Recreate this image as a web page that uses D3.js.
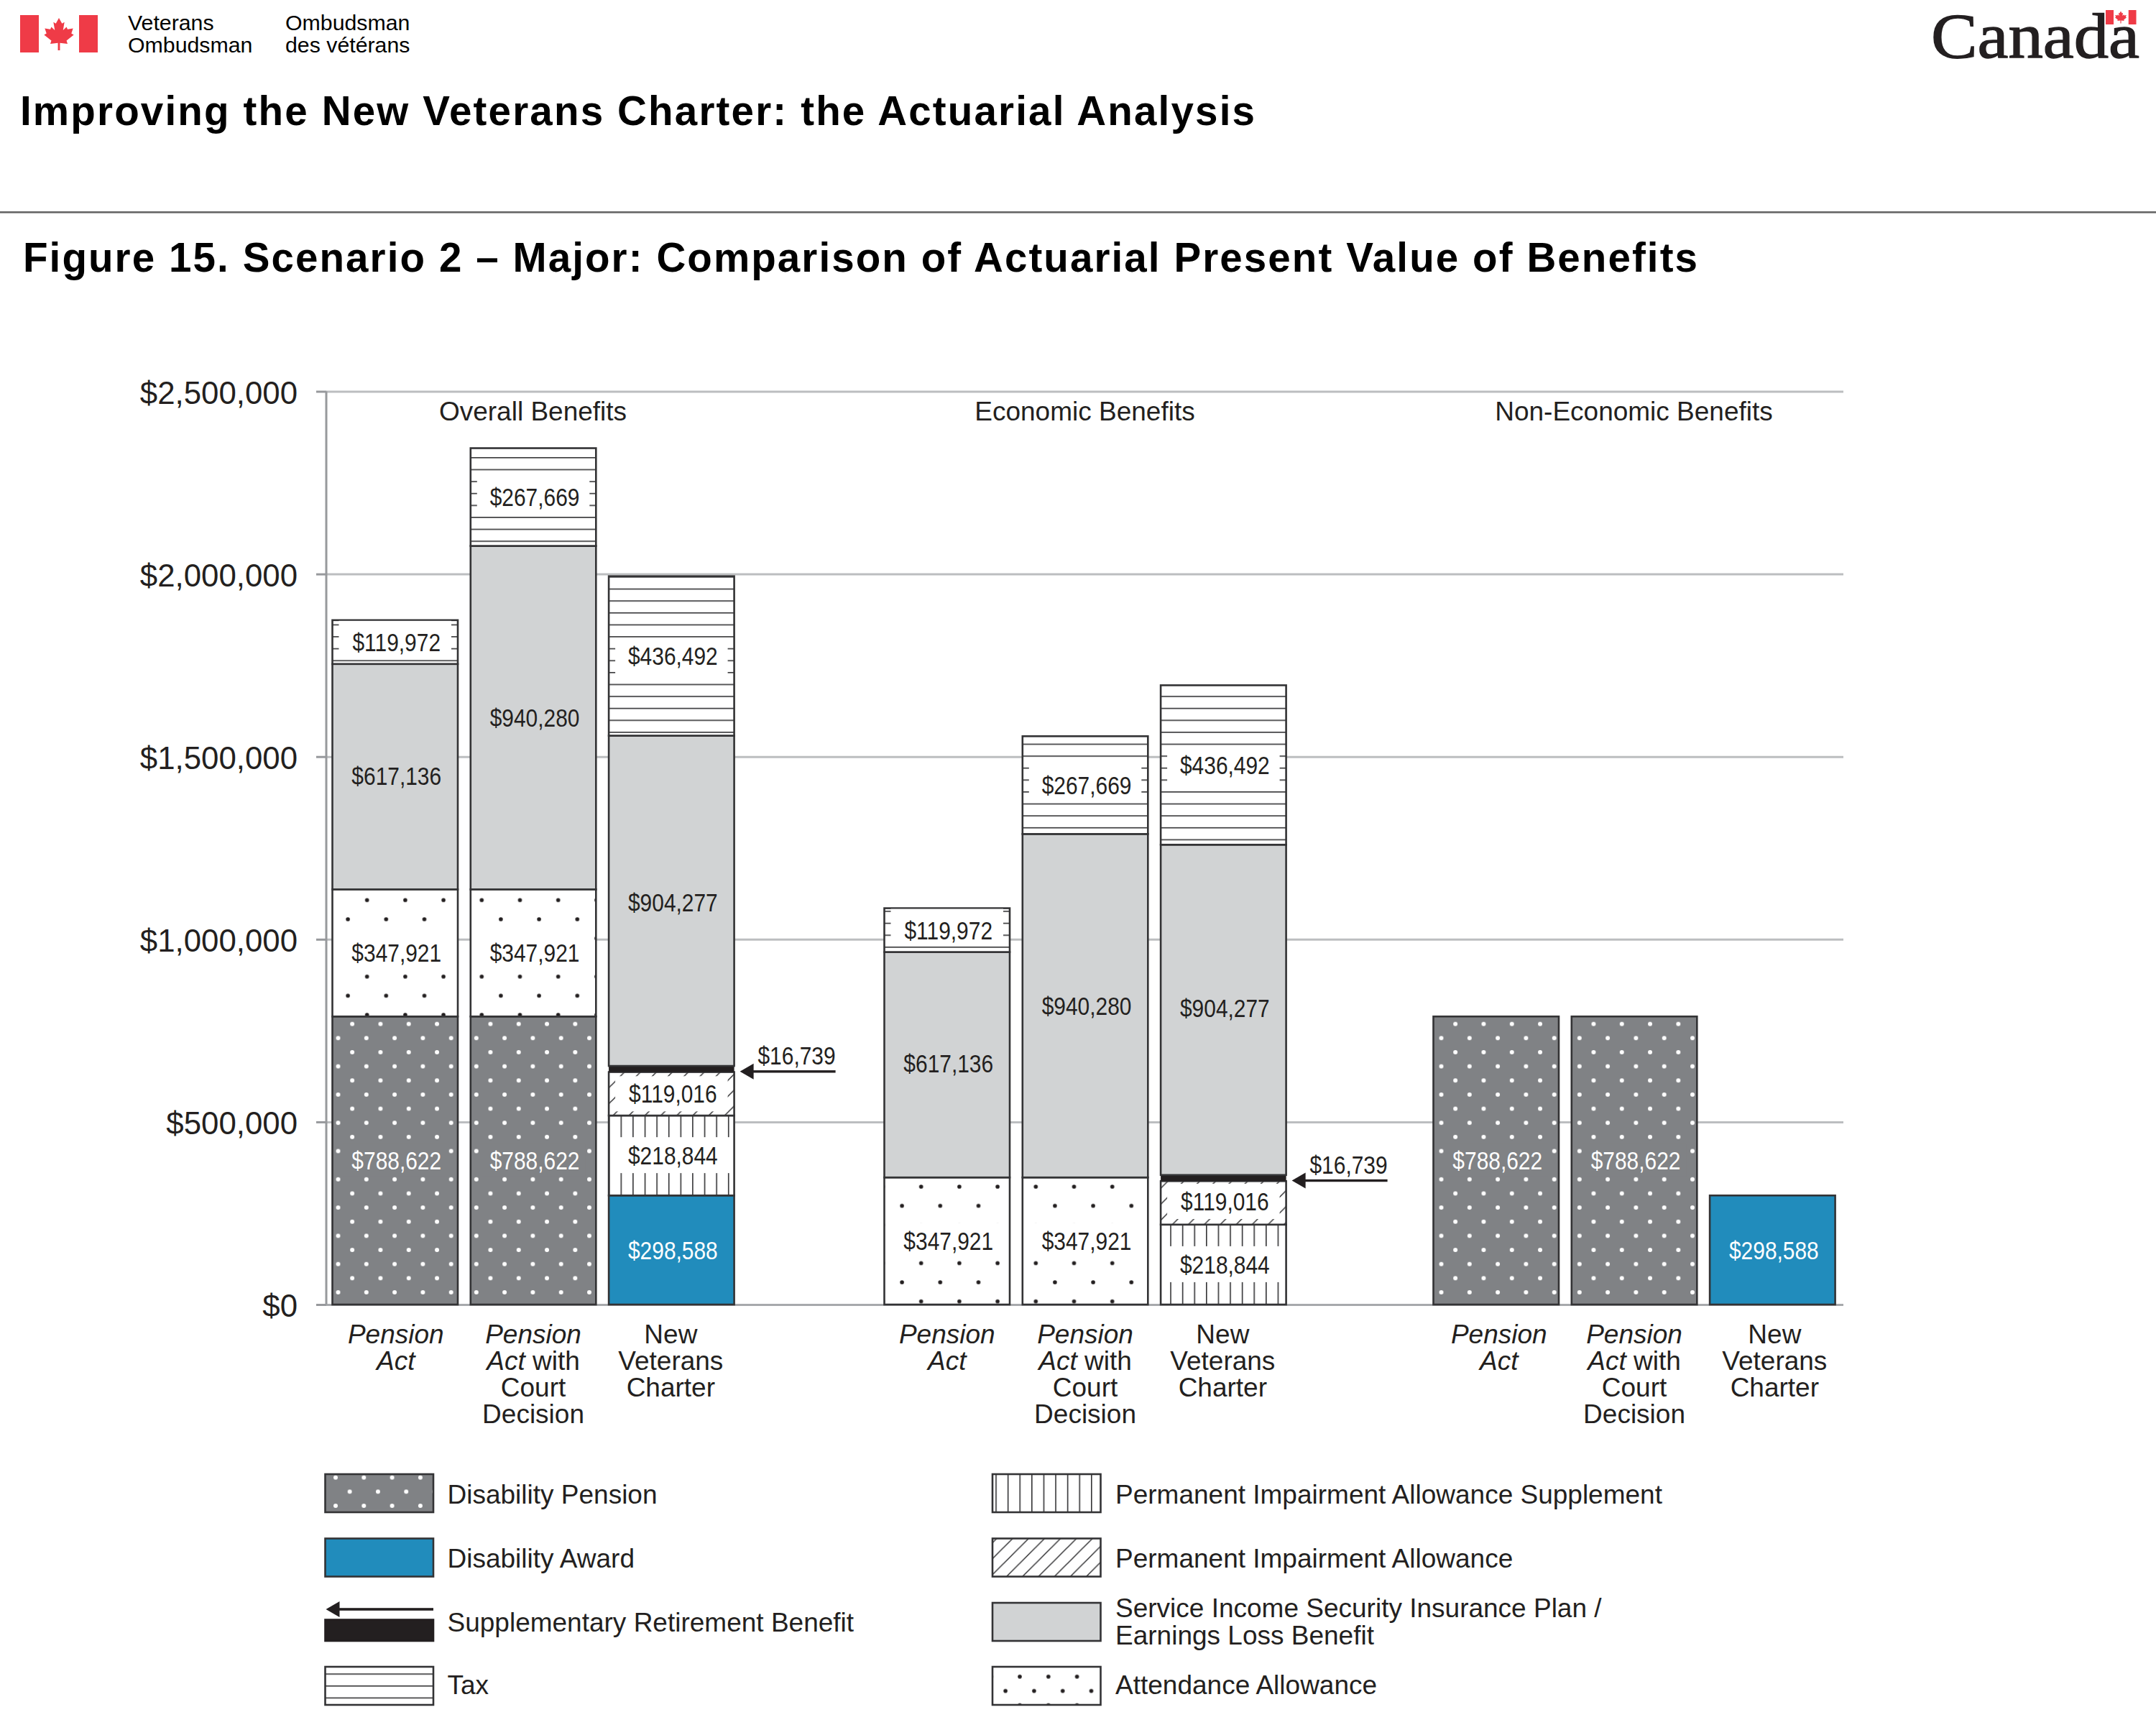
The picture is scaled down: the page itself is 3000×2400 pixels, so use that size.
<!DOCTYPE html>
<html><head><meta charset="utf-8">
<script src="https://cdn.jsdelivr.net/npm/d3@7"></script>
<style>html,body{margin:0;padding:0;background:#fff}svg{display:block}text{font-family:"Liberation Sans",Arial,sans-serif;fill:#231f20}</style>
</head><body><div id="c"></div>
<script>
const groups = ['Overall Benefits', 'Economic Benefits', 'Non-Economic Benefits'];
const members = ['Pension Act', 'Pension Act with Court Decision', 'New Veterans Charter'];
const yTicks = [0, 500000, 1000000, 1500000, 2000000, 2500000];
// one value per bar: three bars in each of the three groups
const disabilityPension = [788622, 788622, 0, 0, 0, 0, 788622, 788622, 0];
const disabilityAward   = [0, 0, 298588, 0, 0, 0, 0, 0, 298588];
const attendance        = [347921, 347921, 0, 347921, 347921, 0, 0, 0, 0];
const piaSupplement     = [0, 0, 218844, 0, 0, 218844, 0, 0, 0];
const pia               = [0, 0, 119016, 0, 0, 119016, 0, 0, 0];
const retirement        = [0, 0, 16739, 0, 0, 16739, 0, 0, 0];
const sisip             = [617136, 940280, 904277, 617136, 940280, 904277, 0, 0, 0];
const tax               = [119972, 267669, 436492, 119972, 267669, 436492, 0, 0, 0];
const seriesKeys = ['dp', 'da', 'aa', 'pias', 'pia', 'srb', 'sisip', 'tax'];
const seriesValues = [disabilityPension, disabilityAward, attendance, piaSupplement, pia, retirement, sisip, tax];
const legendLeft = [['Disability Pension'], ['Disability Award'], ['Supplementary Retirement Benefit'], ['Tax']];
const legendRight = [['Permanent Impairment Allowance Supplement'], ['Permanent Impairment Allowance'],
  ['Service Income Security Insurance Plan /', 'Earnings Loss Benefit'], ['Attendance Allowance']];

const INK = '#231f20', EDGE = '#333335', GREY = '#808285', LIGHT = '#d1d3d4', BLUE = '#218cbc', RED = '#ef3b47';
const svg = d3.select('#c').append('svg').attr('width', 3000).attr('height', 2400).attr('viewBox', '0 0 3000 2400');
const defs = svg.append('defs');

const y = d3.scaleLinear().domain([0, 2500000]).range([1815, 544.5]);
const groupX = d3.scaleOrdinal().domain(groups).range([462.5, 1230.5, 1994.5]);
const memberX = d3.scaleBand().domain(members).range([0, 559.1]).paddingInner(1 - 174.5 / 192.3);
const barW = memberX.bandwidth();
const fmt = d3.format('$,');

function pattern(id, kind, ox, oy, t) {
  const p = defs.append('pattern').attr('id', id).attr('patternUnits', 'userSpaceOnUse')
    .attr('width', t).attr('height', t).attr('patternTransform', `translate(${ox},${oy})`);
  if (kind === 'dp' || kind === 'aa') {
    p.append('rect').attr('width', t).attr('height', t).attr('fill', kind === 'dp' ? GREY : '#fff');
    [[0, 0], [t, 0], [0, t], [t, t], [t / 2, t / 2]].forEach(c => p.append('circle').attr('cx', c[0]).attr('cy', c[1])
      .attr('r', kind === 'dp' ? 3 : 2.8).attr('fill', kind === 'dp' ? '#fff' : INK));
  } else {
    p.append('rect').attr('width', t).attr('height', t).attr('fill', '#fff');
    if (kind === 'tax') p.append('rect').attr('y', 0).attr('width', t).attr('height', 1.6).attr('fill', EDGE);
    if (kind === 'pias') p.append('rect').attr('x', 0).attr('width', 1.6).attr('height', t).attr('fill', EDGE);
    if (kind === 'pia') p.append('path').attr('d', `M-2,${t + 2}L${t + 2},-2M${-t / 2},${t / 2}L${t / 2},${-t / 2}M${t / 2},${t * 1.5}L${t * 1.5},${t / 2}`)
      .attr('stroke', EDGE).attr('stroke-width', 1.5).attr('fill', 'none');
  }
  return `url(#${id})`;
}

// header
svg.append('rect').attr('x', 28).attr('y', 21).attr('width', 26).attr('height', 52).attr('fill', RED);
svg.append('rect').attr('x', 110).attr('y', 21).attr('width', 26).attr('height', 52).attr('fill', RED);
const leaf = 'M0,-50L9,-33L16,-37L12,-12L22,-22L25,-15L41,-18L36,-2L43,2L22,20L25,30L3,27L3,50L-3,50L-3,27L-25,30L-22,20L-43,2L-36,-2L-41,-18L-25,-15L-22,-22L-12,-12L-16,-37L-9,-33Z';
svg.append('path').attr('d', leaf).attr('fill', RED).attr('transform', 'translate(82,47.5) scale(.48,.45)');
[['Veterans', 178, 42], ['Ombudsman', 178, 73], ['Ombudsman', 397, 42], ['des vétérans', 397, 73]].forEach(d =>
  svg.append('text').attr('x', d[1]).attr('y', d[2]).attr('font-size', 30.3).style('fill', '#000').text(d[0]));
svg.append('text').attr('x', 2687).attr('y', 80).attr('textLength', 290).attr('lengthAdjust', 'spacingAndGlyphs')
  .style('font-family', '"Liberation Serif",serif').attr('font-size', 89.5).attr('stroke', INK).attr('stroke-width', 1.3).text('Canada');
svg.append('rect').attr('x', 2930).attr('y', 14).attr('width', 11).attr('height', 20).attr('fill', RED);
svg.append('rect').attr('x', 2961.5).attr('y', 14).attr('width', 11).attr('height', 20).attr('fill', RED);
svg.append('rect').attr('x', 2941).attr('y', 14).attr('width', 20.5).attr('height', 20).attr('fill', '#fff');
svg.append('path').attr('d', leaf).attr('fill', RED).attr('transform', 'translate(2951,24) scale(.19,.17)');
const titleSqueeze = 0.975;
svg.append('text').attr('transform', `translate(28,174) scale(${titleSqueeze},1)`).attr('font-size', 58).attr('font-weight', 700).style('fill', '#000')
  .attr('textLength', 1718 / titleSqueeze).attr('lengthAdjust', 'spacing').text('Improving the New Veterans Charter: the Actuarial Analysis');
svg.append('rect').attr('x', 0).attr('y', 294).attr('width', 3000).attr('height', 2.6).attr('fill', '#666');
svg.append('text').attr('transform', `translate(32,378) scale(${titleSqueeze},1)`).attr('font-size', 58).attr('font-weight', 700).style('fill', '#000')
  .attr('textLength', 2330 / titleSqueeze).attr('lengthAdjust', 'spacing').text('Figure 15. Scenario 2 – Major: Comparison of Actuarial Present Value of Benefits');

// grid and axis
const axisX = 454;
const grid = svg.append('g').attr('transform', `translate(${axisX},0)`)
  .call(d3.axisRight(y).tickValues(yTicks).tickSize(2565 - axisX).tickFormat(''));
grid.select('.domain').remove();
grid.selectAll('line').attr('stroke', d => d === 0 ? '#a7a9ac' : '#bcbec0').attr('stroke-width', 3);
const axis = svg.append('g').attr('transform', `translate(${axisX},0)`)
  .call(d3.axisLeft(y).tickValues(yTicks).tickSize(14).tickPadding(26).tickFormat(fmt));
axis.select('.domain').attr('stroke', '#97999c').attr('stroke-width', 3).attr('d', `M0,${y(2500000)}V${y(0)}`);
axis.selectAll('line').attr('stroke', '#97999c').attr('stroke-width', 3);
axis.selectAll('text').attr('font-size', 43.8).attr('dy', 16.5).style('font-family', '"Liberation Sans",Arial,sans-serif').style('fill', INK);

groups.forEach((g, i) => svg.append('text').attr('x', [741.5, 1509.5, 2273.5][i]).attr('y', 585).attr('text-anchor', 'middle').attr('font-size', 37).text(g));

// bars
const bars = d3.range(9).map(i => Object.assign({ i, group: groups[Math.floor(i / 3)], member: members[i % 3] },
  Object.fromEntries(seriesKeys.map((k, s) => [k, seriesValues[s][i]]))));
const stacked = d3.stack().keys(seriesKeys)(bars);
const left = b => groupX(b.group) + memberX(b.member);
const gi = b => Math.floor(b.i / 3);
const fillFor = (key, b) => {
  const id = `p-${key}-${b.i}`;
  if (key === 'dp') return pattern(id, 'dp', left(b) + [8, 8, 11][gi(b)], 1444.3, 39.3);
  if (key === 'aa') return pattern(id, 'aa', [510.7, 1281.7, 0][gi(b)], [1252.3, 1651, 0][gi(b)], 53.2);
  if (key === 'tax') return pattern(id, 'tax', 0, 868.5, 16.61);
  if (key === 'pias') return pattern(id, 'pias', [863.5, 1628.2, 0][gi(b)], 0, 16.6);
  if (key === 'pia') return pattern(id, 'pia', [7.4, 5, 0][gi(b)], 0, 22.2);
  return { da: BLUE, srb: INK, sisip: LIGHT }[key];
};
const boxes = { dp: [15, -36, 9, GREY], aa: [3, -38, 12, '#fff'], pias: [3, -38, 12, '#fff'], pia: [9, -37, 12, '#fff'], tax: [9, -42, 8, '#fff'] };
const boxShift = b => (b.i % 3 === 2 ? 10.5 : 0);
const baseShift = { sisip: [-1.5, 0, 2, -1.5, 0, -3, 0, 0, 0], pia: [0, 0, 0, 0, 0, -2, 0, 0, 0] };
const barLayer = svg.append('g'), labelLayer = svg.append('g');
stacked.forEach(layer => {
  layer.forEach(seg => {
    const v = seg[1] - seg[0];
    if (!v) return;
    const b = seg.data, x = left(b), key = layer.key;
    const r = barLayer.append('rect').attr('x', x).attr('y', y(seg[1])).attr('width', barW).attr('height', y(seg[0]) - y(seg[1]))
      .attr('fill', fillFor(key, b));
    if (key === 'srb') return;
    r.attr('stroke', EDGE).attr('stroke-width', 2.6);
    const base = (y(seg[0]) + y(seg[1])) / 2 + 12.5 + (baseShift[key] ? baseShift[key][b.i] : 0);
    const bx = boxes[key];
    const dy = key === 'tax' ? boxShift(b) : 0;
    if (bx) labelLayer.append('rect').attr('x', x + bx[0]).attr('y', base + bx[1] + dy).attr('width', barW - 2 * bx[0]).attr('height', bx[2] - bx[1]).attr('fill', bx[3]);
    labelLayer.append('text').attr('text-anchor', 'middle').attr('font-size', 35)
      .attr('transform', `translate(${x + barW / 2 + 2},${base}) scale(.855,1)`)
      .style('fill', key === 'dp' || key === 'da' ? '#fff' : INK).text(fmt(v));
  });
});

// retirement benefit call-outs
bars.filter(b => b.srb > 0).forEach(b => {
  const seg = stacked[seriesKeys.indexOf('srb')][b.i];
  const ay = y((seg[0] + seg[1]) / 2) + 3.5, tip = left(b) + barW + 8;
  const g = svg.append('g');
  g.append('path').attr('d', `M${tip},${ay}L${tip + 19},${ay - 11}V${ay + 11}Z`).attr('fill', INK);
  g.append('rect').attr('x', tip + 18).attr('y', ay - 1.7).attr('width', 115).attr('height', 3.4).attr('fill', INK);
  g.append('text').attr('text-anchor', 'end').attr('font-size', 35)
    .attr('transform', `translate(${tip + 133},${ay - 10}) scale(.855,1)`).text(fmt(b.srb));
});

// category labels
const catLines = [
  [[['Pension', 1]], [['Act', 1]]],
  [[['Pension', 1]], [['Act', 1], [' with', 0]], [['Court', 0]], [['Decision', 0]]],
  [[['New', 0]], [['Veterans', 0]], [['Charter', 0]]]
];
const labelNudge = [1, 0, -1, 0, 0, -1, 4, 0, 3];
bars.forEach(b => {
  catLines[b.i % 3].forEach((line, li) => {
    const t = svg.append('text').attr('x', left(b) + barW / 2 + labelNudge[b.i]).attr('y', 1868.5 + li * 37)
      .attr('text-anchor', 'middle').attr('font-size', 37);
    line.forEach(part => t.append('tspan').attr('font-style', part[1] ? 'italic' : 'normal').text(part[0]));
  });
});

// legend
const swL = 452.5, swR = 1381, swW = 150.5, swH = 53;
const rowsY = [2051, 2140.5, 2230, 2319];
const lineText = (x, base, lines) => lines.forEach((l, i) => svg.append('text').attr('x', x).attr('y', base + i * 38).attr('font-size', 37).text(l));
const swatch = (x, yy, fill) => svg.append('rect').attr('x', x).attr('y', yy).attr('width', swW).attr('height', swH).attr('fill', fill).attr('stroke', EDGE).attr('stroke-width', 2.6);
swatch(swL, rowsY[0], pattern('l-dp', 'dp', 467, 2055.7, 39.3));
swatch(swL, rowsY[1], BLUE);
swatch(swL, 2253.5, INK).attr('height', 29.5).attr('stroke', INK);
svg.append('path').attr('d', `M453.5,2239L472.5,2228V2250Z`).attr('fill', INK);
svg.append('rect').attr('x', 472).attr('y', 2237.2).attr('width', 131).attr('height', 3.6).attr('fill', INK);
swatch(swL, rowsY[3], pattern('l-tax', 'tax', 0, 2328.3, 16.6));
swatch(swR, rowsY[0], pattern('l-pias', 'pias', 1385.2, 0, 16.6));
swatch(swR, rowsY[1], pattern('l-pia', 'pia', 19.8, 0, 22.2));
swatch(swR, rowsY[2], LIGHT);
swatch(swR, rowsY[3], pattern('l-aa', 'aa', 1419, 2332.7, 39.8));
[2091.7, 2180.5, 2270, 2357].forEach((b, i) => lineText(622.5, b, legendLeft[i]));
[2091.7, 2180.5, 2249.5, 2357].forEach((b, i) => lineText(1552, b, legendRight[i]));
</script></body></html>
